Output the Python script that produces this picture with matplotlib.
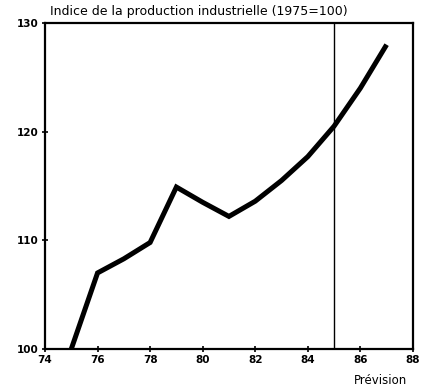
import matplotlib
matplotlib.use("Agg")
import matplotlib.pyplot as plt

years = [75, 76, 77, 78, 79, 80, 81, 82, 83, 84, 85, 86, 87]
index_values = [100, 107, 108.3, 109.8, 114.9, 113.5, 112.2, 113.6, 115.5, 117.7, 120.5, 124.0, 128.0]
x_ticks = [74, 76, 78, 80, 82, 84, 86, 88]
y_ticks = [100, 110, 120, 130]
forecast_year = 85
title = "Indice de la production industrielle (1975=100)"
forecast_label = "Prévision"

fig = plt.figure(figsize=(4.31, 3.89), dpi=100)
ax = fig.add_axes([0.1044, 0.1028, 0.8536, 0.8382])
ax.plot(years, index_values, color="black", linewidth=3.6, solid_capstyle="butt", solid_joinstyle="miter")
ax.axvline(forecast_year, color="black", linewidth=1.0)
ax.set_xlim(74, 88)
ax.set_ylim(100, 130)
ax.set_xticks(x_ticks)
ax.set_yticks(y_ticks)
ax.set_xticklabels([str(t) for t in x_ticks], fontweight="bold", fontsize=7.5)
ax.set_yticklabels([str(t) for t in y_ticks], fontweight="bold", fontsize=7.5)
ax.tick_params(axis="both", direction="inout", length=5, width=1.2, pad=2)
for s in ax.spines.values():
    s.set_linewidth(1.6)
fig.text(0.116, 0.953, title, fontsize=9, ha="left", va="bottom")
fig.text(0.882, 0.005, forecast_label, fontsize=8.5, ha="center", va="bottom")
fig.savefig("out.png", dpi=100)
